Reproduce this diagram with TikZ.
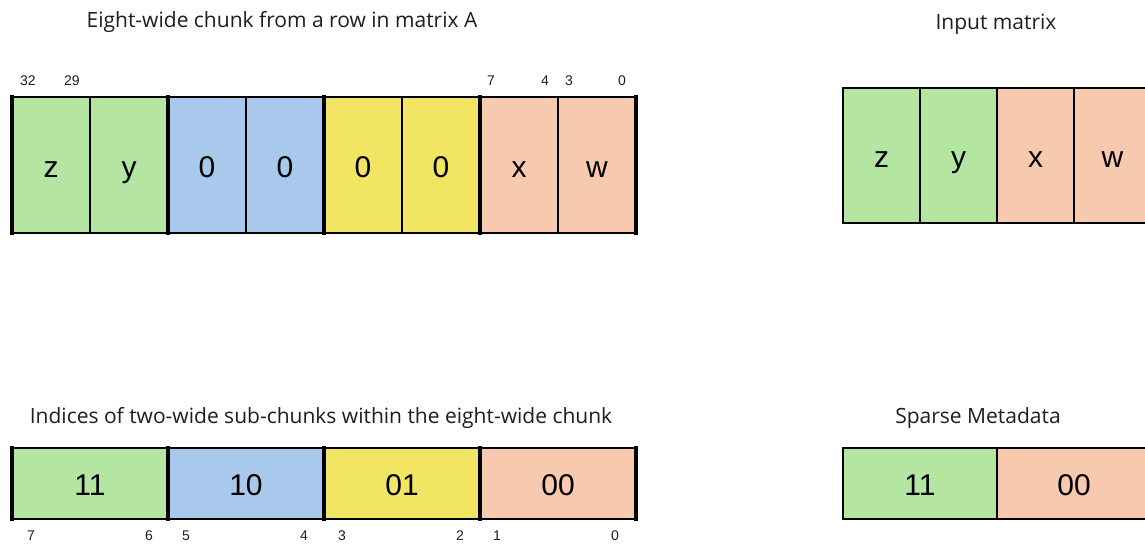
\documentclass[tikz,border=0pt]{standalone}
\usepackage{fontspec}
\setmainfont{Open Sans}
\newfontfamily\cellfont{Liberation Sans}
\definecolor{cgreen}{RGB}{180,229,161}
\definecolor{cblue}{RGB}{168,201,235}
\definecolor{cyellow}{RGB}{242,229,99}
\definecolor{cpeach}{RGB}{247,201,175}
\definecolor{txt}{RGB}{30,30,30}
\begin{document}
\begin{tikzpicture}[x=1pt,y=-1pt,
  cell/.style={rectangle,draw=black,line width=1.2pt,inner sep=0pt,outer sep=0pt,
    font=\cellfont\fontsize{30}{32}\selectfont,text height=24pt,text depth=0pt},
  topcell/.style={cell,minimum width=78pt,minimum height=136pt},
  botcell/.style={cell,minimum width=156pt,minimum height=71pt},
  rtcell/.style={cell,minimum width=77pt,minimum height=135pt},
  rbcell/.style={cell,minimum width=154pt,minimum height=71pt},
  thick border/.style={line width=3.5pt,line cap=rect},
  title/.style={font=\fontsize{21}{24}\selectfont,text=txt,inner sep=0pt},
  bitnum/.style={font=\cellfont\fontsize{14}{16}\selectfont,text=txt,inner sep=0pt}]
\useasboundingbox[fill=white] (0,0) rectangle (1145,544);

% titles
\node[title] (t1) at (282,22) {Eight-wide chunk from a row in matrix A};
\node[title] (t2) at (996,24) {Input matrix};
\node[title] (t3) at (321,418) {Indices of two-wide sub-chunks within the eight-wide chunk};
\node[title] (t4) at (978,418) {Sparse Metadata};

% top-left row
\node[topcell,fill=cgreen]  (a1) at (51,165)  {z};
\node[topcell,fill=cgreen]  (a2) at (129,165) {y};
\node[topcell,fill=cblue]   (a3) at (207,165) {0};
\node[topcell,fill=cblue]   (a4) at (285,165) {0};
\node[topcell,fill=cyellow] (a5) at (363,165) {0};
\node[topcell,fill=cyellow] (a6) at (441,165) {0};
\node[topcell,fill=cpeach]  (a7) at (519,165) {x};
\node[topcell,fill=cpeach]  (a8) at (597,165) {w};
\draw[line width=2pt] (a1.north west) -- (a8.north east);
\draw[line width=2pt] (a1.south west) -- (a8.south east);
\draw[thick border] (a1.north west) -- (a1.south west);
\draw[thick border] (a3.north west) -- (a3.south west);
\draw[thick border] (a5.north west) -- (a5.south west);
\draw[thick border] (a7.north west) -- (a7.south west);
\draw[thick border] (a8.north east) -- (a8.south east);

% top bit numbers
\node[bitnum] (n32) at (28,81) {32};
\node[bitnum] (n29) at (72,81) {29};
\node[bitnum] (n7)  at (491,81) {7};
\node[bitnum] (n4)  at (545,81) {4};
\node[bitnum] (n3)  at (569,81) {3};
\node[bitnum] (n0)  at (622,81) {0};

% bottom-left row
\node[botcell,fill=cgreen]  (b1) at (90,483.5)  {11};
\node[botcell,fill=cblue]   (b2) at (246,483.5) {10};
\node[botcell,fill=cyellow] (b3) at (402,483.5) {01};
\node[botcell,fill=cpeach]  (b4) at (558,483.5) {00};
\draw[line width=2pt] (b1.north west) -- (b4.north east);
\draw[line width=2pt] (b1.south west) -- (b4.south east);
\draw[thick border] (b1.north west) -- (b1.south west);
\draw[thick border] (b2.north west) -- (b2.south west);
\draw[thick border] (b3.north west) -- (b3.south west);
\draw[thick border] (b4.north west) -- (b4.south west);
\draw[thick border] (b4.north east) -- (b4.south east);

% bottom bit numbers
\node[bitnum] (m7) at (31,536) {7};
\node[bitnum] (m6) at (149,536) {6};
\node[bitnum] (m5) at (186,536) {5};
\node[bitnum] (m4) at (304,536) {4};
\node[bitnum] (m3) at (342,536) {3};
\node[bitnum] (m2) at (460,536) {2};
\node[bitnum] (m1) at (497,536) {1};
\node[bitnum] (m0) at (615,536) {0};

% right top: input matrix
\node[rtcell,fill=cgreen] (r1) at (881.5,155.5)  {z};
\node[rtcell,fill=cgreen] (r2) at (958.5,155.5)  {y};
\node[rtcell,fill=cpeach] (r3) at (1035.5,155.5) {x};
\node[rtcell,fill=cpeach] (r4) at (1112.5,155.5) {w};

% right bottom: sparse metadata
\node[rbcell,fill=cgreen] (s1) at (920,483.5)  {11};
\node[rbcell,fill=cpeach] (s2) at (1074,483.5) {00};
\end{tikzpicture}
\end{document}
